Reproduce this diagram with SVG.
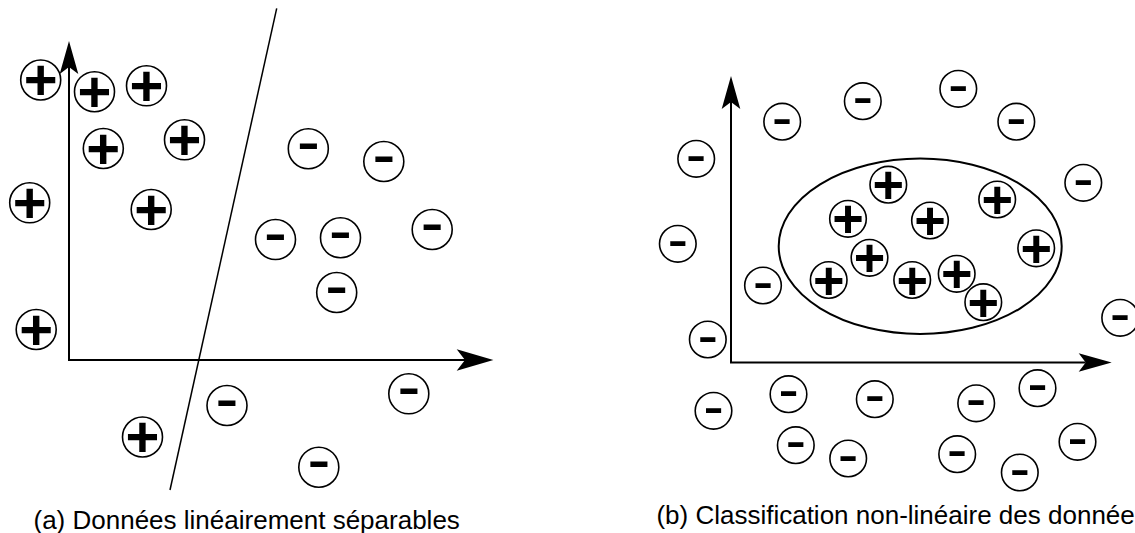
<svg xmlns="http://www.w3.org/2000/svg" width="1135" height="533" viewBox="0 0 1135 533">
<style>
.ax{fill:none;stroke:#000;stroke-width:2}
.sep{fill:none;stroke:#000;stroke-width:1.5}
.ell{fill:none;stroke:#000;stroke-width:2}
.c{fill:#fff;stroke:#000;stroke-width:1.6}
.pl{font-family:"Liberation Sans",Arial,sans-serif;font-weight:bold;font-size:58px;text-anchor:middle;fill:#000}
.mi{font-family:"Liberation Sans",Arial,sans-serif;font-size:70px;text-anchor:middle;fill:#000}
.pr{font-family:"Liberation Sans",Arial,sans-serif;font-weight:bold;font-size:54px;text-anchor:middle;fill:#000}
.mr{font-family:"Liberation Sans",Arial,sans-serif;font-size:62px;text-anchor:middle;fill:#000}
.cap{font-family:"Liberation Sans",Arial,sans-serif;font-size:26px;fill:#000}
</style>
<defs>
<marker id="arr" markerUnits="userSpaceOnUse" orient="auto-start-reverse" refX="7" refY="0" markerWidth="40" markerHeight="24" overflow="visible">
<path d="M33,0 L0,-9.3 L7,0 L0,9.3 Z" fill="#000"/>
</marker>
<marker id="arrL" markerUnits="userSpaceOnUse" orient="auto" refX="8.3" refY="0" markerWidth="40" markerHeight="24" overflow="visible">
<path d="M36.7,0 L0,-10.8 L8.3,0 L0,10.8 Z" fill="#000"/>
</marker>
</defs>
<rect width="1135" height="533" fill="#fff"/>
<g id="connectors">
<path class="ax" d="M69,67 L69,360 L465,360" marker-start="url(#arr)" marker-end="url(#arrL)"/>
<path class="ax" d="M731,102 L731,362.5 L1085.7,362.5" marker-start="url(#arr)" marker-end="url(#arr)"/>
<line id="separator" class="sep" x1="276.7" y1="8.3" x2="170" y2="490"/>
<ellipse id="boundary" class="ell" cx="920.2" cy="246.3" rx="141.5" ry="87.7"/>
</g>
<g id="left-plus">
<g id="lp1"><circle class="c" cx="40.7" cy="80" r="20"/><text class="pl" x="40.7" y="100">+</text></g>
<g id="lp2"><circle class="c" cx="94.5" cy="91.7" r="20"/><text class="pl" x="94.5" y="111.7">+</text></g>
<g id="lp3"><circle class="c" cx="146.5" cy="85.8" r="20"/><text class="pl" x="146.5" y="105.8">+</text></g>
<g id="lp4"><circle class="c" cx="103.3" cy="148.5" r="20"/><text class="pl" x="103.3" y="168.5">+</text></g>
<g id="lp5"><circle class="c" cx="184.5" cy="139.8" r="20"/><text class="pl" x="184.5" y="159.8">+</text></g>
<g id="lp6"><circle class="c" cx="29.7" cy="202.8" r="20"/><text class="pl" x="29.7" y="222.8">+</text></g>
<g id="lp7"><circle class="c" cx="151.2" cy="209.5" r="20"/><text class="pl" x="151.2" y="229.5">+</text></g>
<g id="lp8"><circle class="c" cx="36.2" cy="329.5" r="20"/><text class="pl" x="36.2" y="349.5">+</text></g>
<g id="lp9"><circle class="c" cx="142.5" cy="437" r="20"/><text class="pl" x="142.5" y="457">+</text></g>
</g>
<g id="left-minus">
<g id="lm1"><circle class="c" cx="308.3" cy="148.7" r="20"/><text class="mi" x="308.3" y="164.7">-</text></g>
<g id="lm2"><circle class="c" cx="383.8" cy="161.5" r="20"/><text class="mi" x="383.8" y="177.5">-</text></g>
<g id="lm3"><circle class="c" cx="275.5" cy="239.5" r="20"/><text class="mi" x="275.5" y="255.5">-</text></g>
<g id="lm4"><circle class="c" cx="340.5" cy="237.8" r="20"/><text class="mi" x="340.5" y="253.8">-</text></g>
<g id="lm5"><circle class="c" cx="432.2" cy="229.5" r="20"/><text class="mi" x="432.2" y="245.5">-</text></g>
<g id="lm6"><circle class="c" cx="336.7" cy="292.5" r="20"/><text class="mi" x="336.7" y="308.5">-</text></g>
<g id="lm7"><circle class="c" cx="408.8" cy="393.8" r="20"/><text class="mi" x="408.8" y="409.8">-</text></g>
<g id="lm8"><circle class="c" cx="318.8" cy="467.2" r="20"/><text class="mi" x="318.8" y="483.2">-</text></g>
<g id="lm9"><circle class="c" cx="227" cy="405.5" r="20"/><text class="mi" x="227" y="421.5">-</text></g>
</g>
<g id="right-minus">
<g id="rm1"><circle class="c" cx="782.2" cy="121.7" r="18.3"/><text class="mr" x="782.2" y="137.7">-</text></g>
<g id="rm2"><circle class="c" cx="862.8" cy="101.2" r="18.3"/><text class="mr" x="862.8" y="117.2">-</text></g>
<g id="rm3"><circle class="c" cx="958.3" cy="88.8" r="18.3"/><text class="mr" x="958.3" y="104.8">-</text></g>
<g id="rm4"><circle class="c" cx="1016.3" cy="121.7" r="18.3"/><text class="mr" x="1016.3" y="137.7">-</text></g>
<g id="rm5"><circle class="c" cx="696.2" cy="158.8" r="18.3"/><text class="mr" x="696.2" y="174.8">-</text></g>
<g id="rm6"><circle class="c" cx="1083.3" cy="182.8" r="18.3"/><text class="mr" x="1083.3" y="198.8">-</text></g>
<g id="rm7"><circle class="c" cx="677.8" cy="243.8" r="18.3"/><text class="mr" x="677.8" y="259.8">-</text></g>
<g id="rm8"><circle class="c" cx="763" cy="285.5" r="18.3"/><text class="mr" x="763" y="301.5">-</text></g>
<g id="rm9"><circle class="c" cx="707.8" cy="339.5" r="18.3"/><text class="mr" x="707.8" y="355.5">-</text></g>
<g id="rm10"><circle class="c" cx="1120.2" cy="317.8" r="18.3"/><text class="mr" x="1120.2" y="333.8">-</text></g>
<g id="rm11"><circle class="c" cx="713.5" cy="410.8" r="18.3"/><text class="mr" x="713.5" y="426.8">-</text></g>
<g id="rm12"><circle class="c" cx="788.5" cy="394.2" r="18.3"/><text class="mr" x="788.5" y="410.2">-</text></g>
<g id="rm13"><circle class="c" cx="874.8" cy="399.2" r="18.3"/><text class="mr" x="874.8" y="415.2">-</text></g>
<g id="rm14"><circle class="c" cx="976.2" cy="403.3" r="18.3"/><text class="mr" x="976.2" y="419.3">-</text></g>
<g id="rm15"><circle class="c" cx="1037.5" cy="388.2" r="18.3"/><text class="mr" x="1037.5" y="404.2">-</text></g>
<g id="rm16"><circle class="c" cx="795.8" cy="445.2" r="18.3"/><text class="mr" x="795.8" y="461.2">-</text></g>
<g id="rm17"><circle class="c" cx="848.2" cy="458.5" r="18.3"/><text class="mr" x="848.2" y="474.5">-</text></g>
<g id="rm18"><circle class="c" cx="957.2" cy="454.2" r="18.3"/><text class="mr" x="957.2" y="470.2">-</text></g>
<g id="rm19"><circle class="c" cx="1019.8" cy="472.5" r="18.3"/><text class="mr" x="1019.8" y="488.5">-</text></g>
<g id="rm20"><circle class="c" cx="1077.5" cy="441.8" r="18.3"/><text class="mr" x="1077.5" y="457.8">-</text></g>
</g>
<g id="right-plus">
<g id="rp1"><circle class="c" cx="888.3" cy="184.7" r="18.3"/><text class="pr" x="888.3" y="203.3">+</text></g>
<g id="rp2"><circle class="c" cx="848" cy="218.8" r="18.3"/><text class="pr" x="848" y="237.4">+</text></g>
<g id="rp3"><circle class="c" cx="930" cy="220.5" r="18.3"/><text class="pr" x="930" y="239.1">+</text></g>
<g id="rp4"><circle class="c" cx="997.2" cy="199.5" r="18.3"/><text class="pr" x="997.2" y="218.1">+</text></g>
<g id="rp5"><circle class="c" cx="1036.2" cy="248.3" r="18.3"/><text class="pr" x="1036.2" y="266.9">+</text></g>
<g id="rp6"><circle class="c" cx="869.5" cy="257.8" r="18.3"/><text class="pr" x="869.5" y="276.4">+</text></g>
<g id="rp7"><circle class="c" cx="828.7" cy="280" r="18.3"/><text class="pr" x="828.7" y="298.6">+</text></g>
<g id="rp8"><circle class="c" cx="912.2" cy="280" r="18.3"/><text class="pr" x="912.2" y="298.6">+</text></g>
<g id="rp9"><circle class="c" cx="956.7" cy="273.8" r="18.3"/><text class="pr" x="956.7" y="292.4">+</text></g>
<g id="rp10"><circle class="c" cx="983.3" cy="302.2" r="18.3"/><text class="pr" x="983.3" y="320.8">+</text></g>
</g>
<g id="captions">
<text class="cap" x="33.5" y="528.5">(a) Données linéairement séparables</text>
<text class="cap" x="656.4" y="523.5">(b) Classification non-linéaire des données</text>
</g>
</svg>
